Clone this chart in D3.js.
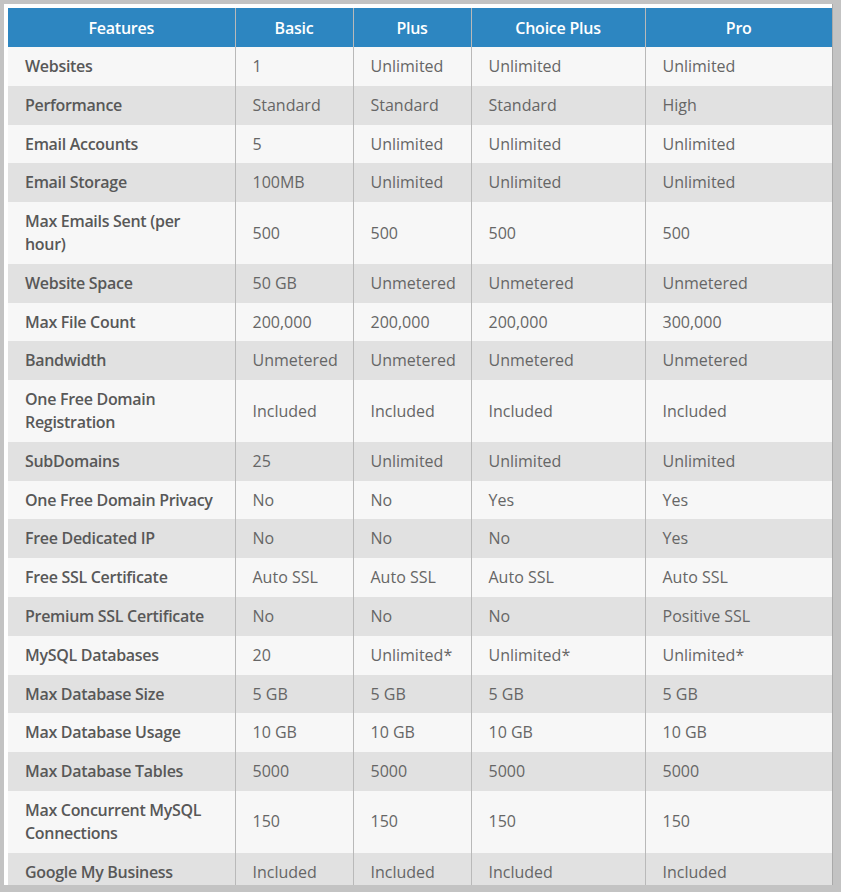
<!DOCTYPE html>
<html>
<head>
<meta charset="utf-8">
<script src="https://cdn.jsdelivr.net/npm/d3@7"></script>
<style>
  html, body { margin: 0; padding: 0; }
  body { background: #c3c3c3; width: 841px; height: 892px; overflow: hidden; position: relative; font-family: "Open Sans", sans-serif; }
  #frame { position: absolute; left: 4px; top: 4px; width: 828px; height: 881px; background: #fff; padding: 4px 3px 0 4px; box-sizing: border-box; overflow: hidden; box-shadow: 1px 0 0 #a9a9a9; }
  table { border-collapse: collapse; table-layout: fixed; width: 824px; }
  th { background: #2d86c1; color: #fff; font-weight: 600; font-size: 16px; letter-spacing: -0.25px; height: 39px; padding: 0; text-align: center; border-left: 1px solid #b9b9b9; line-height: 22px; }
  th:first-child { border-left: none; }
  td { font-size: 16px; line-height: 22.8px; padding: 8px 12px 8px 17px; color: #666; border-left: 1px solid #b9b9b9; vertical-align: middle; }
  td:first-child { border-left: none; color: #585858; font-weight: 600; letter-spacing: -0.3px; }
  tr.odd td { background: #f7f7f7; }
  tr.even td { background: #e1e1e1; }
</style>
</head>
<body>
<div id="frame"></div>
<script>
const columns = ["Features", "Basic", "Plus", "Choice Plus", "Pro"];
const columnWidths = [227, 118, 118, 174, 187];
const features = [
  "Websites", "Performance", "Email Accounts", "Email Storage", "Max Emails Sent (per hour)",
  "Website Space", "Max File Count", "Bandwidth", "One Free Domain Registration", "SubDomains",
  "One Free Domain Privacy", "Free Dedicated IP", "Free SSL Certificate", "Premium SSL Certificate",
  "MySQL Databases", "Max Database Size", "Max Database Usage", "Max Database Tables",
  "Max Concurrent MySQL Connections", "Google My Business"
];
const basic = ["1", "Standard", "5", "100MB", "500", "50 GB", "200,000", "Unmetered", "Included", "25",
  "No", "No", "Auto SSL", "No", "20", "5 GB", "10 GB", "5000", "150", "Included"];
const plus = ["Unlimited", "Standard", "Unlimited", "Unlimited", "500", "Unmetered", "200,000", "Unmetered", "Included", "Unlimited",
  "No", "No", "Auto SSL", "No", "Unlimited*", "5 GB", "10 GB", "5000", "150", "Included"];
const choicePlus = ["Unlimited", "Standard", "Unlimited", "Unlimited", "500", "Unmetered", "200,000", "Unmetered", "Included", "Unlimited",
  "Yes", "No", "Auto SSL", "No", "Unlimited*", "5 GB", "10 GB", "5000", "150", "Included"];
const pro = ["Unlimited", "High", "Unlimited", "Unlimited", "500", "Unmetered", "300,000", "Unmetered", "Included", "Unlimited",
  "Yes", "Yes", "Auto SSL", "Positive SSL", "Unlimited*", "5 GB", "10 GB", "5000", "150", "Included"];

const rows = features.map((f, i) => [f, basic[i], plus[i], choicePlus[i], pro[i]]);

const table = d3.select("#frame").append("table");
table.append("colgroup").selectAll("col").data(columnWidths).join("col").style("width", d => d + "px");
table.append("thead").append("tr").selectAll("th").data(columns).join("th").text(d => d);
table.append("tbody").selectAll("tr").data(rows).join("tr")
  .attr("class", (d, i) => i % 2 === 0 ? "odd" : "even")
  .selectAll("td").data(d => d).join("td").text(d => d);
</script>
</body>
</html>
